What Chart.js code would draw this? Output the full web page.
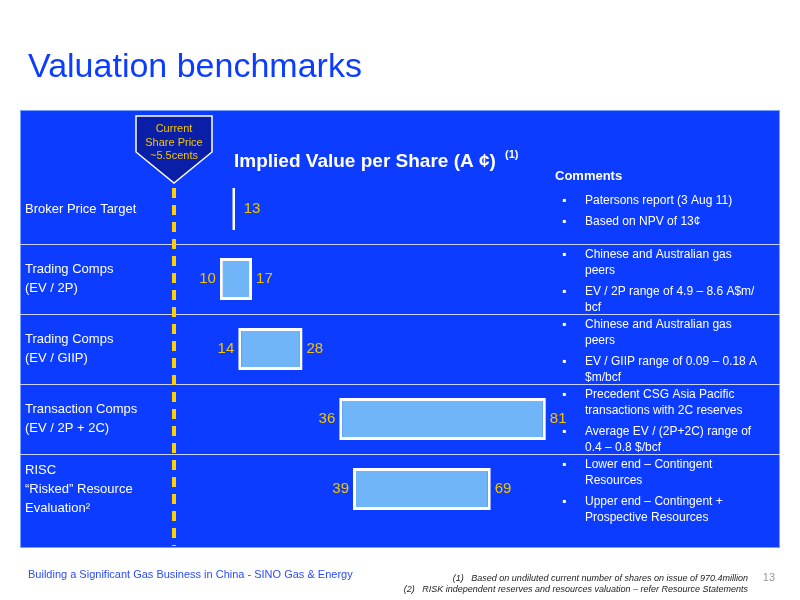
<!DOCTYPE html>
<html><head><meta charset="utf-8">
<script src="https://cdn.jsdelivr.net/npm/chart.js@4"></script>
<style>html,body{margin:0;padding:0;background:#fff}#c{display:block}</style>
</head><body>
<canvas id="c" width="800" height="600"></canvas>
<script>
const categories = ["Broker Price Target", "Trading Comps (EV / 2P)", "Trading Comps (EV / GIIP)", "Transaction Comps (EV / 2P + 2C)", "RISC Risked Resource Evaluation"];
const lowValues = [13, 10, 14, 36, 39];
const highValues = [13, 17, 28, 81, 69];
const rowLabels = [["Broker Price Target"], ["Trading Comps", "(EV / 2P)"], ["Trading Comps", "(EV / GIIP)"], ["Transaction Comps", "(EV / 2P + 2C)"], ["RISC", "\u201cRisked\u201d Resource", "Evaluation\u00b2"]];
const comments = [
  [["Patersons report (3 Aug 11)"], ["Based on NPV of 13\u00a2"]],
  [["Chinese and Australian gas", "peers"], ["EV / 2P range of 4.9 \u2013 8.6 A$m/", "bcf"]],
  [["Chinese and Australian gas", "peers"], ["EV / GIIP range of 0.09 \u2013 0.18 A", "$m/bcf"]],
  [["Precedent CSG Asia Pacific", "transactions with 2C reserves"], ["Average EV / (2P+2C) range of", "0.4 \u2013 0.8 $/bcf"]],
  [["Lower end \u2013 Contingent", "Resources"], ["Upper end \u2013 Contingent +", "Prospective Resources"]]
];
const sharePrice = 0;

const F = "'Liberation Sans', Arial, sans-serif";
const back = {
  id: "back",
  beforeDraw(ch) {
    const c = ch.ctx;
    c.save();
    c.fillStyle = "#fff"; c.fillRect(0, 0, 800, 600);
    c.fillStyle = "#0b3cff"; c.fillRect(20, 110, 760, 438);
    c.strokeStyle = "#7aa0ff"; c.lineWidth = 1; c.strokeRect(20.5, 110.5, 759, 437);
    c.fillStyle = "#0b3cff"; c.font = "34px " + F; c.textBaseline = "alphabetic";
    c.fillText("Valuation benchmarks", 28, 77);
    // row separators
    const y = ch.scales.y;
    c.strokeStyle = "#c8d4ff"; c.lineWidth = 1;
    for (let i = 0; i < categories.length - 1; i++) {
      const yy = (y.getPixelForValue(i) + y.getPixelForValue(i + 1)) / 2;
      c.beginPath(); c.moveTo(20, Math.round(yy) + 0.5); c.lineTo(780, Math.round(yy) + 0.5); c.stroke();
    }
    // dashed share price line
    const x0 = ch.scales.x.getPixelForValue(sharePrice);
    c.strokeStyle = "#ffd000"; c.lineWidth = 4; c.setLineDash([10, 7]);
    c.beginPath(); c.moveTo(x0, 188); c.lineTo(x0, 546); c.stroke(); c.setLineDash([]);
    // callout
    c.fillStyle = "#0a1fa8"; c.strokeStyle = "#fff"; c.lineWidth = 1.5;
    c.beginPath(); c.moveTo(x0 - 38, 116); c.lineTo(x0 + 38, 116); c.lineTo(x0 + 38, 152); c.lineTo(x0, 183); c.lineTo(x0 - 38, 152); c.closePath(); c.fill(); c.stroke();
    c.fillStyle = "#f5c400"; c.font = "11px " + F; c.textAlign = "center";
    c.fillText("Current", x0, 132); c.fillText("Share Price", x0, 146); c.fillText("~5.5cents", x0, 159);
    c.textAlign = "left"; c.fillStyle = "#fff"; c.font = "bold 19px " + F;
    c.fillText("Implied Value per Share (A \u00a2)", 234, 167);
    c.font = "bold 11px " + F; c.fillText("(1)", 505, 158);
    c.font = "bold 13px " + F; c.fillText("Comments", 555, 180);
    // footer
    c.fillStyle = "#2a4cff"; c.font = "11px " + F; c.fillText("Building a Significant Gas Business in China - SINO Gas & Energy", 28, 578);
    c.fillStyle = "#222"; c.font = "italic 9px " + F; c.textAlign = "right";
    c.fillText("(1)   Based on undiluted current number of shares on issue of 970.4million", 748, 581);
    c.fillText("(2)   RISK independent reserves and resources valuation \u2013 refer Resource Statements", 748, 592);
    c.fillStyle = "#999"; c.font = "11px " + F; c.fillText("13", 775, 581);
    // row labels and comments
    c.textAlign = "left";
    categories.forEach((_, i) => {
      const cy = y.getPixelForValue(i);
      const ls = rowLabels[i];
      c.fillStyle = "#fff"; c.font = "13px " + F; c.textBaseline = "middle";
      ls.forEach((t, k) => c.fillText(t, 25, cy + (k - (ls.length - 1) / 2) * 19));
      const cm = comments[i];
      const lines = cm.reduce((a, b) => a + b.length, 0);
      let yy = cy - (lines - 1) / 2 * 16.5;
      if (i === 0) yy = cy - 8;
      c.font = "12px " + F;
      cm.forEach(b => {
        c.fillText("\u25aa", 562, yy);
        b.forEach(t => { c.fillText(t, 585, yy); yy += 16.5; });
        yy += 4;
      });
    });
    c.restore();
  },
  afterDatasetsDraw(ch) {
    const c = ch.ctx, x = ch.scales.x, y = ch.scales.y;
    c.save(); c.fillStyle = "#f5c400"; c.font = "15px " + F; c.textBaseline = "middle";
    categories.forEach((_, i) => {
      const cy = y.getPixelForValue(i);
      if (lowValues[i] === highValues[i]) {
        c.textAlign = "left"; c.fillText(String(highValues[i]), x.getPixelForValue(highValues[i]) + 10, cy);
      } else {
        c.textAlign = "right"; c.fillText(String(lowValues[i]), x.getPixelForValue(lowValues[i]) - 4, cy);
        c.textAlign = "left"; c.fillText(String(highValues[i]), x.getPixelForValue(highValues[i]) + 4, cy);
      }
    });
    c.restore();
  }
};

new Chart(document.getElementById("c"), {
  type: "bar",
  data: {
    labels: categories,
    datasets: [{
      data: lowValues.map((v, i) => v === highValues[i] ? [v - 0.3, v + 0.3] : [v, highValues[i]]),
      backgroundColor: lowValues.map((v, i) => v === highValues[i] ? "#fff" : "#6fb5f7"),
      borderColor: "#fff", borderWidth: 3, borderSkipped: false,
      barPercentage: 0.6, categoryPercentage: 1
    }]
  },
  options: {
    indexAxis: "y", responsive: false, animation: false,
    layout: { padding: { left: 174, right: 245, top: 174, bottom: 76 } },
    plugins: { legend: { display: false }, tooltip: { enabled: false } },
    scales: {
      x: { display: false, min: 0, max: 83 },
      y: { display: false }
    }
  },
  plugins: [back]
});
</script>
</body></html>
